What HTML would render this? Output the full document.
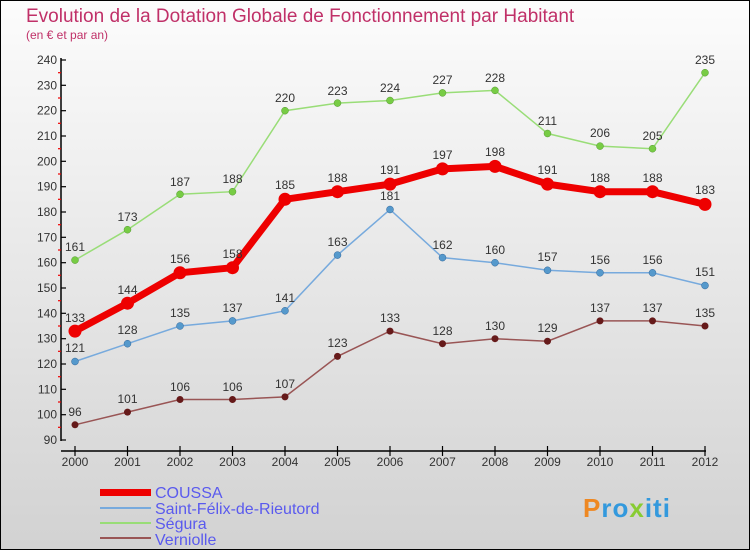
<!DOCTYPE html>
<html><head><meta charset="utf-8"><style>
body{margin:0}
svg{display:block;font-family:"Liberation Sans",sans-serif}
</style></head><body>
<svg width="750" height="550" viewBox="0 0 750 550" xmlns="http://www.w3.org/2000/svg">
<defs><linearGradient id="bg" x1="0" y1="0" x2="0" y2="1"><stop offset="0" stop-color="#fcfcfc"/><stop offset="1" stop-color="#d2d2d2"/></linearGradient></defs>
<rect x="0.5" y="0.5" width="749" height="549" fill="url(#bg)" stroke="#000"/>
<text x="26" y="22" font-size="19" fill="#c03068">Evolution de la Dotation Globale de Fonctionnement par Habitant</text>
<text x="26" y="39" font-size="12" fill="#c03068">(en € et par an)</text>
<g stroke="#000" stroke-width="1.5">
<line x1="61" y1="58" x2="61" y2="441"/>
<line x1="61" y1="451" x2="706" y2="451"/>
</g>
<g stroke="#000" stroke-width="1.2">
<line x1="61" y1="60" x2="66" y2="60"/><line x1="61" y1="85.3" x2="66" y2="85.3"/><line x1="61" y1="110.7" x2="66" y2="110.7"/><line x1="61" y1="136" x2="66" y2="136"/><line x1="61" y1="161.3" x2="66" y2="161.3"/><line x1="61" y1="186.7" x2="66" y2="186.7"/><line x1="61" y1="212" x2="66" y2="212"/><line x1="61" y1="237.3" x2="66" y2="237.3"/><line x1="61" y1="262.7" x2="66" y2="262.7"/><line x1="61" y1="288" x2="66" y2="288"/><line x1="61" y1="313.3" x2="66" y2="313.3"/><line x1="61" y1="338.7" x2="66" y2="338.7"/><line x1="61" y1="364" x2="66" y2="364"/><line x1="61" y1="389.3" x2="66" y2="389.3"/><line x1="61" y1="414.7" x2="66" y2="414.7"/><line x1="61" y1="440" x2="66" y2="440"/>
<line x1="75" y1="446" x2="75" y2="456"/><line x1="127.5" y1="446" x2="127.5" y2="456"/><line x1="180" y1="446" x2="180" y2="456"/><line x1="232.5" y1="446" x2="232.5" y2="456"/><line x1="285" y1="446" x2="285" y2="456"/><line x1="337.5" y1="446" x2="337.5" y2="456"/><line x1="390" y1="446" x2="390" y2="456"/><line x1="442.5" y1="446" x2="442.5" y2="456"/><line x1="495" y1="446" x2="495" y2="456"/><line x1="547.5" y1="446" x2="547.5" y2="456"/><line x1="600" y1="446" x2="600" y2="456"/><line x1="652.5" y1="446" x2="652.5" y2="456"/><line x1="705" y1="446" x2="705" y2="456"/>
</g>
<g stroke="#e00" stroke-width="1.2">
<line x1="58" y1="72.7" x2="61" y2="72.7"/><line x1="58" y1="98" x2="61" y2="98"/><line x1="58" y1="123.3" x2="61" y2="123.3"/><line x1="58" y1="148.7" x2="61" y2="148.7"/><line x1="58" y1="174" x2="61" y2="174"/><line x1="58" y1="199.3" x2="61" y2="199.3"/><line x1="58" y1="224.7" x2="61" y2="224.7"/><line x1="58" y1="250" x2="61" y2="250"/><line x1="58" y1="275.3" x2="61" y2="275.3"/><line x1="58" y1="300.7" x2="61" y2="300.7"/><line x1="58" y1="326" x2="61" y2="326"/><line x1="58" y1="351.3" x2="61" y2="351.3"/><line x1="58" y1="376.7" x2="61" y2="376.7"/><line x1="58" y1="402" x2="61" y2="402"/><line x1="58" y1="427.3" x2="61" y2="427.3"/>
</g>
<g font-size="12" fill="#333" text-anchor="end">
<text x="57" y="64">240</text><text x="57" y="89.3">230</text><text x="57" y="114.7">220</text><text x="57" y="140">210</text><text x="57" y="165.3">200</text><text x="57" y="190.7">190</text><text x="57" y="216">180</text><text x="57" y="241.3">170</text><text x="57" y="266.7">160</text><text x="57" y="292">150</text><text x="57" y="317.3">140</text><text x="57" y="342.7">130</text><text x="57" y="368">120</text><text x="57" y="393.3">110</text><text x="57" y="418.7">100</text><text x="57" y="444">90</text>
</g>
<g font-size="12" fill="#333" text-anchor="middle">
<text x="75" y="466">2000</text><text x="127.5" y="466">2001</text><text x="180" y="466">2002</text><text x="232.5" y="466">2003</text><text x="285" y="466">2004</text><text x="337.5" y="466">2005</text><text x="390" y="466">2006</text><text x="442.5" y="466">2007</text><text x="495" y="466">2008</text><text x="547.5" y="466">2009</text><text x="600" y="466">2010</text><text x="652.5" y="466">2011</text><text x="705" y="466">2012</text>
</g>
<!-- Segura -->
<polyline fill="none" stroke="#99dd77" stroke-width="1.5" points="75,260.1 127.5,229.7 180,194.3 232.5,191.7 285,110.7 337.5,103.1 390,100.5 442.5,92.9 495,90.4 547.5,133.5 600,146.1 652.5,148.7 705,72.7"/>
<g fill="#77cc44" stroke="#559933" stroke-width="0.5"><circle cx="75" cy="260.1" r="3.5"/><circle cx="127.5" cy="229.7" r="3.5"/><circle cx="180" cy="194.3" r="3.5"/><circle cx="232.5" cy="191.7" r="3.5"/><circle cx="285" cy="110.7" r="3.5"/><circle cx="337.5" cy="103.1" r="3.5"/><circle cx="390" cy="100.5" r="3.5"/><circle cx="442.5" cy="92.9" r="3.5"/><circle cx="495" cy="90.4" r="3.5"/><circle cx="547.5" cy="133.5" r="3.5"/><circle cx="600" cy="146.1" r="3.5"/><circle cx="652.5" cy="148.7" r="3.5"/><circle cx="705" cy="72.7" r="3.5"/></g>
<!-- Saint-Felix -->
<polyline fill="none" stroke="#77aadd" stroke-width="1.5" points="75,361.5 127.5,343.7 180,326 232.5,320.9 285,310.8 337.5,255.1 390,209.5 442.5,257.6 495,262.7 547.5,270.3 600,272.8 652.5,272.8 705,285.5"/>
<g fill="#5599cc" stroke="#336699" stroke-width="0.5"><circle cx="75" cy="361.5" r="3.5"/><circle cx="127.5" cy="343.7" r="3.5"/><circle cx="180" cy="326" r="3.5"/><circle cx="232.5" cy="320.9" r="3.5"/><circle cx="285" cy="310.8" r="3.5"/><circle cx="337.5" cy="255.1" r="3.5"/><circle cx="390" cy="209.5" r="3.5"/><circle cx="442.5" cy="257.6" r="3.5"/><circle cx="495" cy="262.7" r="3.5"/><circle cx="547.5" cy="270.3" r="3.5"/><circle cx="600" cy="272.8" r="3.5"/><circle cx="652.5" cy="272.8" r="3.5"/><circle cx="705" cy="285.5" r="3.5"/></g>
<!-- Verniolle -->
<polyline fill="none" stroke="#995555" stroke-width="1.5" points="75,424.8 127.5,412.1 180,399.5 232.5,399.5 285,396.9 337.5,356.4 390,331.1 442.5,343.7 495,338.7 547.5,341.2 600,320.9 652.5,320.9 705,326"/>
<g fill="#661a1a"><circle cx="75" cy="424.8" r="3.5"/><circle cx="127.5" cy="412.1" r="3.5"/><circle cx="180" cy="399.5" r="3.5"/><circle cx="232.5" cy="399.5" r="3.5"/><circle cx="285" cy="396.9" r="3.5"/><circle cx="337.5" cy="356.4" r="3.5"/><circle cx="390" cy="331.1" r="3.5"/><circle cx="442.5" cy="343.7" r="3.5"/><circle cx="495" cy="338.7" r="3.5"/><circle cx="547.5" cy="341.2" r="3.5"/><circle cx="600" cy="320.9" r="3.5"/><circle cx="652.5" cy="320.9" r="3.5"/><circle cx="705" cy="326" r="3.5"/></g>
<!-- COUSSA -->
<polyline fill="none" stroke="#ee0000" stroke-width="7" stroke-linejoin="round" points="75,331.1 127.5,303.2 180,272.8 232.5,267.7 285,199.3 337.5,191.7 390,184.1 442.5,168.9 495,166.4 547.5,184.1 600,191.7 652.5,191.7 705,204.4"/>
<g fill="#ee0000"><circle cx="75" cy="331.1" r="6.5"/><circle cx="127.5" cy="303.2" r="6.5"/><circle cx="180" cy="272.8" r="6.5"/><circle cx="232.5" cy="267.7" r="6.5"/><circle cx="285" cy="199.3" r="6.5"/><circle cx="337.5" cy="191.7" r="6.5"/><circle cx="390" cy="184.1" r="6.5"/><circle cx="442.5" cy="168.9" r="6.5"/><circle cx="495" cy="166.4" r="6.5"/><circle cx="547.5" cy="184.1" r="6.5"/><circle cx="600" cy="191.7" r="6.5"/><circle cx="652.5" cy="191.7" r="6.5"/><circle cx="705" cy="204.4" r="6.5"/></g>
<g font-size="12" fill="#333" text-anchor="middle">
<text x="75" y="251">161</text><text x="127.5" y="221">173</text><text x="180" y="186">187</text><text x="232.5" y="183">188</text><text x="285" y="102">220</text><text x="337.5" y="95">223</text><text x="390" y="92">224</text><text x="442.5" y="84">227</text><text x="495" y="82">228</text><text x="547.5" y="125">211</text><text x="600" y="137">206</text><text x="652.5" y="140">205</text><text x="705" y="64">235</text>
<text x="75" y="322">133</text><text x="127.5" y="294">144</text><text x="180" y="263">156</text><text x="232.5" y="258">158</text><text x="285" y="189">185</text><text x="337.5" y="182">188</text><text x="390" y="174">191</text><text x="442.5" y="159">197</text><text x="495" y="156">198</text><text x="547.5" y="174">191</text><text x="600" y="182">188</text><text x="652.5" y="182">188</text><text x="705" y="194">183</text>
<text x="75" y="352">121</text><text x="127.5" y="334">128</text><text x="180" y="317">135</text><text x="232.5" y="312">137</text><text x="285" y="302">141</text><text x="337.5" y="246">163</text><text x="390" y="200">181</text><text x="442.5" y="249">162</text><text x="495" y="254">160</text><text x="547.5" y="261">157</text><text x="600" y="264">156</text><text x="652.5" y="264">156</text><text x="705" y="276">151</text>
<text x="75" y="416">96</text><text x="127.5" y="403">101</text><text x="180" y="391">106</text><text x="232.5" y="391">106</text><text x="285" y="388">107</text><text x="337.5" y="347">123</text><text x="390" y="322">133</text><text x="442.5" y="335">128</text><text x="495" y="330">130</text><text x="547.5" y="332">129</text><text x="600" y="312">137</text><text x="652.5" y="312">137</text><text x="705" y="317">135</text>
</g>
<!-- legend -->
<rect x="100" y="489" width="51" height="7" fill="#ee0000"/>
<line x1="100" y1="508" x2="151" y2="508" stroke="#77aadd" stroke-width="2"/>
<line x1="100" y1="523" x2="151" y2="523" stroke="#99dd77" stroke-width="2"/>
<line x1="100" y1="538" x2="151" y2="538" stroke="#995555" stroke-width="2"/>
<g font-size="16" fill="#5a5aee">
<text x="155" y="498">COUSSA</text><text x="155" y="514">Saint-Félix-de-Rieutord</text><text x="155" y="529">Ségura</text><text x="155" y="545">Verniolle</text>
</g>
<text x="583" y="517" font-size="26" font-weight="bold" fill="#3399dd" letter-spacing="1"><tspan fill="#ee8822">P</tspan><tspan fill="#3399dd">ro</tspan><tspan fill="#88cc33">x</tspan><tspan fill="#3399dd">iti</tspan></text>
</svg>
</body></html>
